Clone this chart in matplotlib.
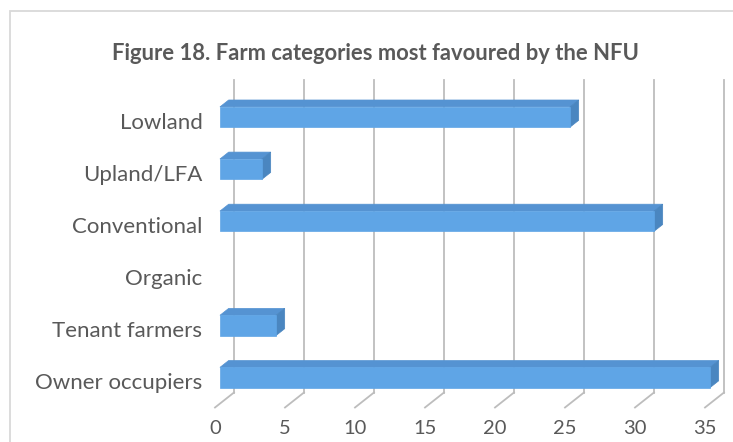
import matplotlib
matplotlib.use("Agg")
import matplotlib.pyplot as plt
from matplotlib.patches import Polygon, Rectangle

plt.rcParams['font.family'] = ['Lato', 'DejaVu Sans']

categories = ['Lowland', 'Upland/LFA', 'Conventional', 'Organic',
              'Tenant farmers', 'Owner occupiers']
values = [25, 3, 31, 0, 4, 35]
xticks = [0, 5, 10, 15, 20, 25, 30, 35]
title = 'Figure 18. Farm categories most favoured by the NFU'

W, H = 733, 442
# 3D depth of the plot box, in data units (x: value, y: category index)
DX = 19 / 14.0
DY = 15 / 52.1
T0, T1 = 0.26, 0.72   # bar occupies this slice of the depth
BAR_H = 0.39

front_c = '#5fa5e6'
top_c = '#5593d2'
side_c = '#4a86c0'
grid_c = '#bdbdbd'
text_c = '#595959'

fig = plt.figure(figsize=(W / 100, H / 100), dpi=100)

# chart border (cut off at right and bottom like the source)
fig.patches.append(Rectangle((10 / W, -0.1), 1.2, 1 - 11 / H + 0.1,
                             transform=fig.transFigure, fill=False,
                             ec='#d9d9d9', lw=1.3))

fig.text(375 / W, 1 - 60 / H, title, ha='center', va='baseline',
         fontsize=15.8, fontweight='bold', color=text_c)

ax = fig.add_axes([215 / W, (H - 407.5) / H, 490 / W, 312.6 / H])
ax.set_xlim(0, 35)
ax.set_ylim(5.5, -0.5)
for s in ax.spines.values():
    s.set_visible(False)
ax.patch.set_alpha(0)

y0, y1 = -0.5, 5.5
for v in xticks:
    # back wall line
    ax.plot([v + DX, v + DX], [y0 - DY, y1 - DY], color=grid_c, lw=1.3,
            clip_on=False, zorder=1)
    # floor line to the front
    ax.plot([v, v + DX], [y1, y1 - DY], color=grid_c, lw=1.3,
            clip_on=False, zorder=1)

for i, v in enumerate(values):
    if v == 0:
        continue
    xf, yf = T0 * DX, -T0 * DY
    xb, yb = T1 * DX, -T1 * DY
    top, bot = i - BAR_H / 2, i + BAR_H / 2
    front = [(xf, top + yf), (v + xf, top + yf), (v + xf, bot + yf), (xf, bot + yf)]
    topf = [(xf, top + yf), (v + xf, top + yf), (v + xb, top + yb), (xb, top + yb)]
    side = [(v + xf, top + yf), (v + xb, top + yb), (v + xb, bot + yb), (v + xf, bot + yf)]
    for pts, c in [(topf, top_c), (side, side_c), (front, front_c)]:
        ax.add_patch(Polygon(pts, closed=True, fc=c, ec=c, lw=0.5,
                             clip_on=False, zorder=3))

ax.set_xticks(xticks)
ax.set_xticklabels([str(t) for t in xticks], fontsize=14.5, color=text_c)
ax.set_yticks(range(len(categories)))
ax.set_yticklabels(categories, fontsize=16, color=text_c)
ax.tick_params(axis='x', length=0, pad=9)
ax.tick_params(axis='y', length=0, pad=9)

fig.savefig('out.png', dpi=100)
